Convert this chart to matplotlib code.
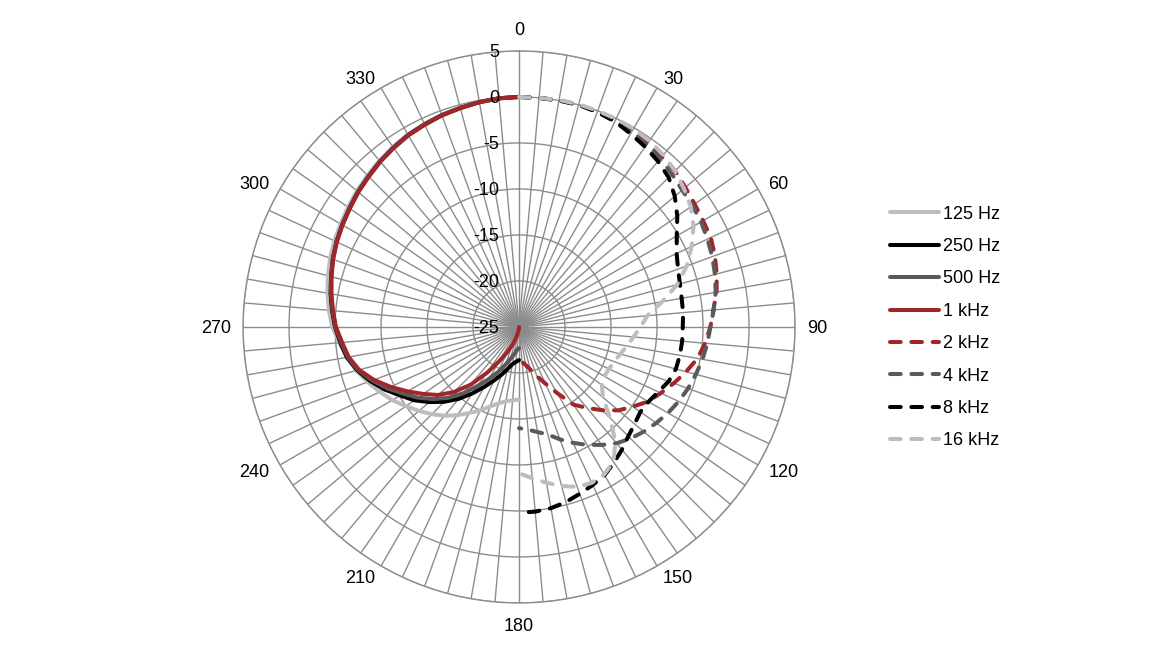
import numpy as np
import matplotlib.pyplot as plt
from matplotlib import transforms

plt.rcParams['font.family'] = ['Liberation Sans', 'DejaVu Sans']

# angulos (graus) de cada metade do diagrama
ang_esq = list(range(180, 365, 5))   # curvas solidas: 180 -> 360
ang_dir = list(range(0, 185, 5))     # curvas tracejadas: 0 -> 180

# valores em dB (passo de 5 graus)
hz125 = [-17.1, -17.0, -16.8, -16.4, -15.8, -15.0, -14.2, -13.3, -12.4, -11.6,
         -10.8, -10.0, -9.1, -8.3, -7.5, -6.7, -6.0, -5.4, -4.7, -4.25,
         -3.85, -3.5, -3.15, -2.85, -2.6, -2.3, -2.0, -1.7, -1.4, -1.1,
         -0.85, -0.65, -0.45, -0.3, -0.15, -0.05, 0.0]
hz250 = [-21.4, -21.2, -20.9, -20.3, -19.5, -18.6, -17.5, -16.2, -14.8, -13.5,
         -12.3, -11.1, -10.1, -8.9, -7.8, -6.8, -6.0, -5.5, -5.0, -4.6,
         -4.2, -3.85, -3.45, -3.1, -2.8, -2.5, -2.15, -1.85, -1.5, -1.2,
         -0.9, -0.7, -0.5, -0.35, -0.18, -0.05, 0.0]
hz500 = [-22.7, -22.5, -22.0, -21.4, -20.6, -19.6, -18.5, -17.2, -15.6, -14.1,
         -12.8, -11.6, -10.5, -9.2, -8.0, -6.9, -6.1, -5.6, -5.05, -4.65,
         -4.25, -3.87, -3.47, -3.12, -2.82, -2.52, -2.17, -1.87, -1.52, -1.22,
         -0.92, -0.72, -0.51, -0.36, -0.19, -0.05, 0.0]
khz1 = [-25.0, -24.8, -24.4, -23.8, -23.0, -22.0, -20.7, -18.9, -16.8, -15.0,
        -13.5, -12.3, -11.0, -9.6, -8.2, -7.0, -6.2, -5.7, -5.1, -4.7,
        -4.3, -3.9, -3.5, -3.15, -2.85, -2.55, -2.2, -1.9, -1.55, -1.25,
        -0.95, -0.75, -0.52, -0.38, -0.2, -0.05, 0.0]

khz2 = [0.0, 0.0, 0.0, 0.0, -0.1, -0.25, -0.45, -0.7, -0.85, -1.0,
        -1.4, -1.7, -1.9, -2.0, -2.35, -2.75, -3.2, -3.8, -4.2, -4.7,
        -5.3, -6.2, -7.1, -8.0, -8.8, -9.9, -10.9, -12.2, -13.5, -14.7,
        -16.7, -18.2, -19.3, -20.2, -20.8, -21.2, -21.5]
khz4 = [0.0, 0.0, 0.0, 0.0, -0.1, -0.3, -0.55, -0.85, -1.15, -1.5,
        -1.85, -2.0, -2.15, -2.4, -2.65, -2.95, -3.3, -3.75, -4.2, -4.45,
        -4.75, -5.1, -5.45, -5.85, -6.3, -6.8, -7.3, -7.85, -8.5, -9.35,
        -10.2, -11.1, -12.0, -12.9, -13.4, -13.8, -14.0]
khz8 = [0.0, 0.0, 0.0, 0.0, -0.15, -0.35, -0.75, -1.1, -1.5, -2.0,
        -2.9, -4.0, -5.2, -6.1, -6.6, -6.9, -7.05, -7.1, -7.2, -7.2,
        -7.25, -7.35, -7.7, -8.3, -8.75, -8.9, -8.6, -8.2, -7.6, -7.0,
        -6.4, -6.05, -5.7, -5.3, -5.0, -4.85, -4.8]
khz16 = [0.0, 0.0, 0.05, 0.05, 0.0, -0.05, -0.1, -0.3, -0.6, -1.0,
         -1.6, -2.2, -3.1, -4.3, -5.6, -7.2, -9.2, -11.0, -11.8, -12.5,
         -13.1, -13.6, -14.0, -14.2, -14.3, -14.0, -13.1, -11.0, -8.7, -7.1,
         -6.5, -6.3, -6.5, -7.1, -7.8, -8.5, -9.1]

rotulos = ['125 Hz', '250 Hz', '500 Hz', '1 kHz', '2 kHz', '4 kHz', '8 kHz', '16 kHz']
cores = ['#BDBDC1', '#000000', '#5A5A5A', '#A0262A', '#A0262A', '#5A5A5A', '#000000', '#BDBDC1']
raios = [-20, -15, -10, -5, 0, 5]
rot_raio = [5, 0, -5, -10, -15, -20, -25]
rot_ang = [0, 30, 60, 90, 120, 150, 180, 210, 240, 270, 300, 330]

fig = plt.figure(figsize=(11.74, 6.67), dpi=100)
ax = fig.add_axes([0.2070, 0.0960, 0.4702, 0.8276], projection='polar')
ax.set_theta_zero_location('N')
ax.set_theta_direction(-1)
ax.set_ylim(-25, 5)

# um raio a cada 5 graus, rotulos so a cada 30 (estilo radar do Excel)
ax.set_xticks(np.deg2rad(list(range(0, 360, 5))))
ax.set_xticklabels([])
ax.set_yticks(raios)
ax.set_yticklabels([])
ax.grid(color='#8C8C8C', lw=1)
ax.spines['polar'].set_color('#8C8C8C')
ax.spines['polar'].set_linewidth(1)

for a in rot_ang:
    t = np.deg2rad(a)
    dist = 15 if a == 180 else 12
    off = transforms.offset_copy(ax.transData, fig=fig, x=dist * np.sin(t),
                                 y=dist * np.cos(t), units='dots')
    if a == 0:
        ha, va = 'center', 'bottom'
    elif a == 180:
        ha, va = 'center', 'top'
    elif a < 180:
        ha, va = 'left', 'center_baseline'
    else:
        ha, va = 'right', 'center_baseline'
    ax.text(t, 5, str(a), transform=off, ha=ha, va=va, fontsize=13, clip_on=False)

# rotulos do eixo radial, a esquerda do raio de 0 graus
desloc = transforms.offset_copy(ax.transData, fig=fig, x=-20, y=0, units='dots')
for v in rot_raio:
    ax.text(0, v, str(v), transform=desloc, ha='right', va='center_baseline', fontsize=13)

series_esq = [hz125, hz250, hz500, khz1]
series_dir = [khz2, khz4, khz8, khz16]

for i, s in enumerate(series_esq):
    ax.plot(np.deg2rad(ang_esq), s, color=cores[i], lw=2.9,
            solid_capstyle='round', label=rotulos[i])
for i, s in enumerate(series_dir):
    ax.plot(np.deg2rad(ang_dir), s, color=cores[i + 4], lw=2.9,
            ls=(0, (2.65, 2.65)), dash_capstyle='round', label=rotulos[i + 4])

fig.legend(loc='center left', bbox_to_anchor=(881 / 1174, 0.509),
           frameon=False, fontsize=13, handlelength=2.7, handletextpad=0.25,
           labelspacing=0.85, borderpad=0)

fig.savefig('out.png', dpi=100)
